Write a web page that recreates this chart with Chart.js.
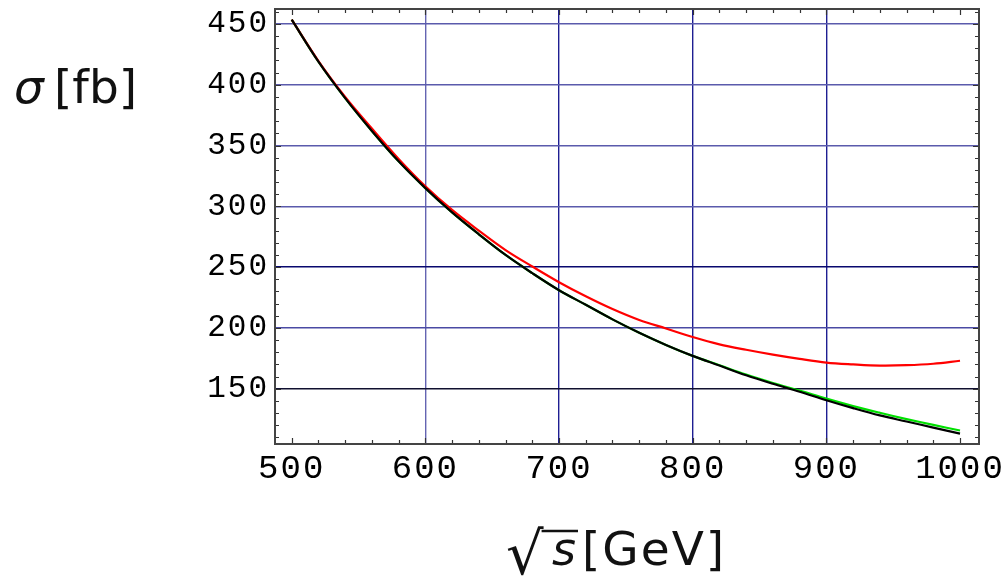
<!DOCTYPE html>
<html>
<head>
<meta charset="utf-8">
<script src="https://cdn.jsdelivr.net/npm/chart.js@4"></script>
<style>
  html, body { margin: 0; padding: 0; background: #fff; }
  canvas { display: block; }
</style>
</head>
<body>
<canvas id="graph" width="1007" height="585"></canvas>
<script>
// sqrt(s) in GeV and cross sections in fb
const sqrtS = [500, 520, 540, 560, 580, 600, 620, 640, 660, 680, 700, 720, 740,
               760, 780, 800, 820, 840, 860, 880, 900, 920, 940, 960, 980, 1000];
const sigmaBlack = [453.5, 419, 389, 362, 337, 315, 295, 277, 260, 245, 231, 219, 207,
                    196, 186, 177, 169, 161, 154, 147.5, 140.5, 134, 128, 123, 118, 113];
const sigmaGreen = [453.5, 419, 389, 362, 337, 315, 295, 277, 260, 245, 231, 219, 207,
                    196, 186, 177, 169.3, 161.6, 154.7, 148.4, 141.8, 135.7, 130.2, 125, 120.2, 115.6];
const sigmaRed = [453.5, 419.5, 390, 364, 339, 316.5, 297, 280, 264, 250.5, 237.6, 226, 215.5,
                  206.5, 199.5, 192.5, 186.5, 182, 178, 174.5, 171.5, 170, 169, 169.3, 170.5, 173];

const xTicks = [500, 600, 700, 800, 900, 1000];
const yTicks = [150, 200, 250, 300, 350, 400, 450];
const xMinor = [];
for (let v = 500; v <= 1000; v += 20) xMinor.push(v);
const yMinor = [];
for (let v = 110; v <= 460; v += 10) yMinor.push(v);

// grid line colours as rendered
const xGridColor = {600: '#6464b2', 700: '#1e1e92', 800: '#1e1e92', 900: '#1e1e92'};
const yGridColor = {150: '#101030', 200: '#4a4aa4', 250: '#08086e', 300: '#5a5aac',
                    350: '#5a5aac', 400: '#5a5aac', 450: '#5a5aac'};

const pts = (ys) => sqrtS.map((x, i) => ({x: x, y: ys[i]}));

const frame = {
  id: 'frame',
  beforeDraw(chart) {
    chart.ctx.letterSpacing = '2px';
  },
  afterDraw(chart) {
    const ctx = chart.ctx;
    const a = chart.chartArea;
    const xs = chart.scales.x, ys = chart.scales.y;
    ctx.save();
    ctx.letterSpacing = '0px';

    // inward tick marks on all four sides
    ctx.strokeStyle = '#333';
    ctx.lineWidth = 1.2;
    ctx.beginPath();
    xMinor.forEach(v => {
      const px = Math.round(xs.getPixelForValue(v)) + 0.5;
      const len = v % 100 === 0 ? 6 : 4;
      ctx.moveTo(px, a.bottom); ctx.lineTo(px, a.bottom - len);
      ctx.moveTo(px, a.top); ctx.lineTo(px, a.top + len);
    });
    yMinor.forEach(v => {
      const py = Math.round(ys.getPixelForValue(v)) + 0.5;
      const len = v % 50 === 0 ? 6 : 4;
      ctx.moveTo(a.left, py); ctx.lineTo(a.left + len, py);
      ctx.moveTo(a.right, py); ctx.lineTo(a.right - len, py);
    });
    ctx.stroke();

    ctx.strokeStyle = '#444';
    ctx.lineWidth = 2;
    ctx.strokeRect(a.left, a.top, a.right - a.left, a.bottom - a.top);

    // axis titles
    ctx.fillStyle = '#111';
    ctx.textBaseline = 'alphabetic';
    ctx.textAlign = 'left';
    ctx.font = 'oblique 47px "DejaVu Sans"';
    ctx.fillText('σ', 14, 103);
    ctx.font = '47px "DejaVu Sans"';
    ctx.fillText('[fb]', 54, 103);

    ctx.font = '59px "DejaVu Sans"';
    ctx.fillText('√', 506, 574);
    const rw = ctx.measureText('√').width;
    ctx.font = 'oblique 46px "DejaVu Sans"';
    ctx.fillText('s', 552, 565);
    ctx.strokeStyle = '#111';
    ctx.lineWidth = 2.5;
    ctx.beginPath();
    ctx.moveTo(506 + rw - 2, 531); ctx.lineTo(578, 531);
    ctx.stroke();
    ctx.letterSpacing = '2px';
    ctx.font = '47px "DejaVu Sans"';
    ctx.fillText('[GeV]', 582, 565);
    ctx.restore();
  }
};

new Chart(document.getElementById('graph'), {
  type: 'line',
  data: {
    datasets: [
      { data: pts(sigmaBlack), borderColor: '#000000', borderWidth: 2.2 },
      { data: pts(sigmaRed), borderColor: '#ff0000', borderWidth: 2.2 },
      { data: pts(sigmaGreen), borderColor: '#00e000', borderWidth: 2.2 }
    ]
  },
  options: {
    responsive: false,
    animation: false,
    devicePixelRatio: 1,
    layout: { padding: { left: 0, top: 9, right: 28, bottom: 0 } },
    elements: { point: { radius: 0 }, line: { tension: 0.35 } },
    plugins: { legend: { display: false }, tooltip: { enabled: false } },
    scales: {
      x: {
        type: 'linear',
        min: 487.5,
        max: 1014.2,
        afterBuildTicks: (s) => { s.ticks = xTicks.map(v => ({value: v})); },
        afterFit: (s) => { s.height = 141; s.paddingLeft = 0; s.paddingRight = 0; },
        grid: {
          drawTicks: false,
          lineWidth: 1.4,
          color: (c) => xGridColor[c.tick.value] || 'rgba(0,0,0,0)'
        },
        border: { display: false },
        ticks: {
          padding: 5,
          maxRotation: 0,
          autoSkip: false,
          color: '#000',
          font: { family: '"Liberation Mono"', size: 34 },
          callback: (v) => String(v)
        }
      },
      y: {
        type: 'linear',
        min: 104.5,
        max: 462.3,
        afterBuildTicks: (s) => { s.ticks = yTicks.map(v => ({value: v})); },
        afterFit: (s) => { s.width = 275; s.paddingTop = 0; s.paddingBottom = 0; },
        grid: {
          drawTicks: false,
          lineWidth: 1.4,
          color: (c) => yGridColor[c.tick.value] || 'rgba(0,0,0,0)'
        },
        border: { display: false },
        ticks: {
          padding: 6,
          autoSkip: false,
          color: '#000',
          font: { family: '"Liberation Mono"', size: 31 },
          callback: (v) => String(v)
        }
      }
    }
  },
  plugins: [frame]
});
</script>
</body>
</html>
